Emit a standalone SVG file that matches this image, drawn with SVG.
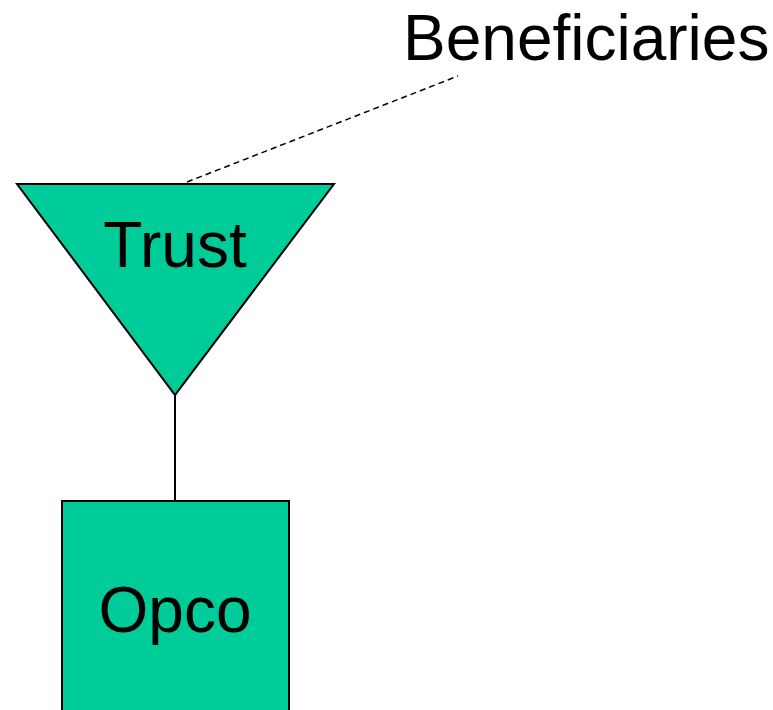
<svg xmlns="http://www.w3.org/2000/svg" width="773" height="710" viewBox="0 0 773 710">
<style>
.shape{fill:#00CC99;stroke:#000;stroke-width:2}
.lbl{font-family:"Liberation Sans",Arial,sans-serif;font-size:64px;fill:#000}
</style>
<rect width="773" height="710" fill="#fff"/>
<g id="connectors">
<line x1="175" y1="395" x2="175" y2="501" stroke="#000" stroke-width="2"/>
<line x1="187" y1="182" x2="458" y2="76" stroke="#000" stroke-width="1.5" stroke-dasharray="6,4"/>
</g>
<g id="trust">
<polygon class="shape" points="17,184 334,184 175,395"/>
<text class="lbl" x="175" y="267" text-anchor="middle">Trust</text>
</g>
<g id="opco">
<rect class="shape" x="62" y="501" width="227" height="220"/>
<text class="lbl" x="175" y="632" text-anchor="middle">Opco</text>
</g>
<g id="beneficiaries">
<text class="lbl" x="403" y="60">Beneficiaries</text>
</g>
</svg>
